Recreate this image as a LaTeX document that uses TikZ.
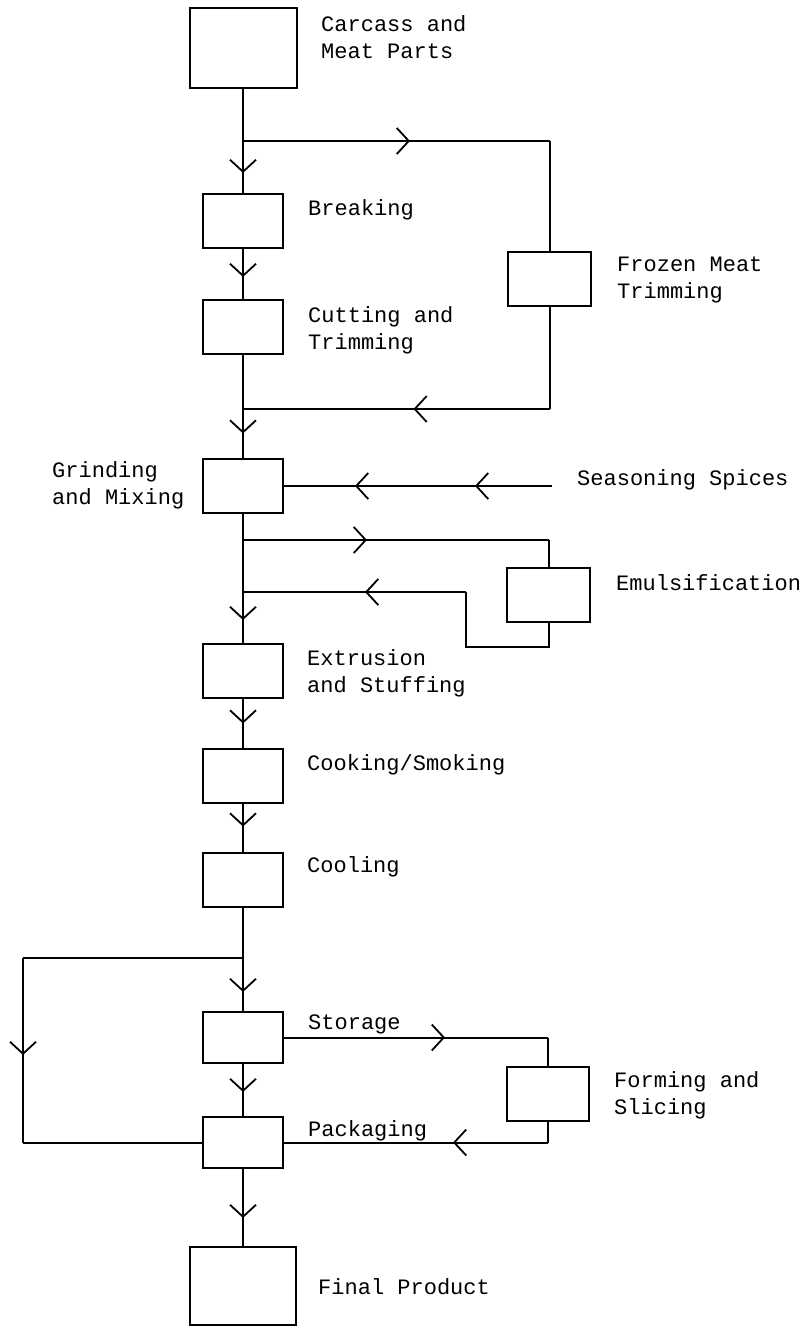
\documentclass[tikz,border=0pt]{standalone}
\usepackage{fontspec}
\setmonofont{Liberation Mono}
\usetikzlibrary{arrows.meta,decorations.markings}
\begin{document}
\begin{tikzpicture}[x=1pt,y=-1pt,
  box/.style={draw, line width=2pt, minimum width=80pt, minimum height=54pt, inner sep=0pt, outer sep=0pt},
  bigbox/.style={box, minimum width=107pt, minimum height=80pt},
  lbl/.style={font=\ttfamily\fontsize{22}{27}\selectfont, anchor=west, align=left, inner sep=0pt},
  flow/.style={line width=2pt},
  barb/.tip={Straight Barb[length=12pt,width=26pt,line width=1.8pt]},
  midarr/.style={flow, postaction={decorate}, decoration={markings, mark=at position #1 with {\arrow{barb}}}},
]
\useasboundingbox (0,0) rectangle (806,1327);

% boxes
\node[bigbox] (carcass) at (243,48) {};
\node[box] (breaking) at (243,221) {};
\node[box] (cutting) at (243,326.5) {};
\node[box, minimum width=83pt] (frozen) at (549.5,278.5) {};
\node[box] (grinding) at (243,486) {};
\node[box, minimum width=83pt] (emuls) at (548.5,594.5) {};
\node[box] (extrusion) at (243,670.5) {};
\node[box] (cooking) at (243,775.5) {};
\node[box] (cooling) at (243,880) {};
\node[box, minimum height=51pt] (storage) at (243,1037.5) {};
\node[box, minimum width=82pt] (forming) at (548,1093.5) {};
\node[box, minimum height=51pt] (packaging) at (243,1142.5) {};
\node[bigbox, minimum width=106pt, minimum height=78pt] (final) at (243,1286) {};

% labels
\node[lbl] (tcarcass) at (321,37.5) {Carcass and\\Meat Parts};
\node[lbl] (tbreaking) at (308,210) {Breaking};
\node[lbl] (tcutting) at (308,330) {Cutting and\\Trimming};
\node[lbl] (tfrozen) at (617,280) {Frozen Meat\\Trimming};
\node[lbl] (tgrinding) at (52,485.5) {Grinding\\and Mixing};
\node[lbl] (tseason) at (577,480) {Seasoning Spices};
\node[lbl] (temuls) at (616,583) {Emulsification};
\node[lbl] (textr) at (307,673) {Extrusion\\and Stuffing};
\node[lbl] (tcook) at (307,765) {Cooking/Smoking};
\node[lbl] (tcool) at (307,867) {Cooling};
\node[lbl] (tstor) at (308,1024) {Storage};
\node[lbl] (tpack) at (308,1131) {Packaging};
\node[lbl] (tform) at (614,1095) {Forming and\\Slicing};
\node[lbl] (tfinal) at (318,1287) {Final Product};

% junction coordinates
\coordinate (b1) at (243,141);
\coordinate (f1) at (549.5,141);
\coordinate (r1) at (549.5,409);
\coordinate (j1) at (243,409);
\coordinate (s1) at (552,486);
\coordinate (b2) at (243,540);
\coordinate (e1) at (548.5,540);
\coordinate (e2) at (548.5,647);
\coordinate (e3) at (466,647);
\coordinate (e4) at (466,592);
\coordinate (j2) at (243,592);
\coordinate (b3) at (243,958);
\coordinate (l1) at (23,958);
\coordinate (l2) at (23,1142.5);
\coordinate (g1) at (548,1037.5);
\coordinate (g2) at (548,1142.5);

% main line
\draw[midarr=85pt] (carcass.south) -- (breaking.north);
\draw[midarr=29pt] (breaking.south) -- (cutting.north);
\draw[midarr=80pt] (cutting.south) -- (grinding.north);
\draw[midarr=107pt] (grinding.south) -- (extrusion.north);
\draw[midarr=26pt] (extrusion.south) -- (cooking.north);
\draw[midarr=24pt] (cooking.south) -- (cooling.north);
\draw[midarr=85pt] (cooling.south) -- (storage.north);
\draw[midarr=29pt] (storage.south) -- (packaging.north);
\draw[midarr=50pt] (packaging.south) -- (final.north);

% frozen meat loop
\draw[midarr=167pt] (b1) -- (f1);
\draw[flow] (f1) -- (frozen.north);
\draw[flow] (frozen.south) -- (r1);
\draw[midarr=136pt] (r1) -- (j1);

% seasoning
\draw[flow, postaction={decorate}, decoration={markings,
  mark=at position 77pt with {\arrow{barb}},
  mark=at position 197pt with {\arrow{barb}}}] (s1) -- (grinding.east);

% emulsification loop
\draw[midarr=124pt] (b2) -- (e1);
\draw[flow] (e1) -- (emuls.north);
\draw[flow] (emuls.south) -- (e2) -- (e3) -- (e4);
\draw[midarr=101pt] (e4) -- (j2);

% bypass loop
\draw[flow] (b3) -- (l1);
\draw[midarr=97pt] (l1) -- (l2);
\draw[flow] (l2) -- (packaging.west);

% forming loop
\draw[midarr=162pt] (storage.east) -- (g1);
\draw[flow] (g1) -- (forming.north);
\draw[flow] (forming.south) -- (g2);
\draw[midarr=95pt] (g2) -- (packaging.east);
\end{tikzpicture}
\end{document}
